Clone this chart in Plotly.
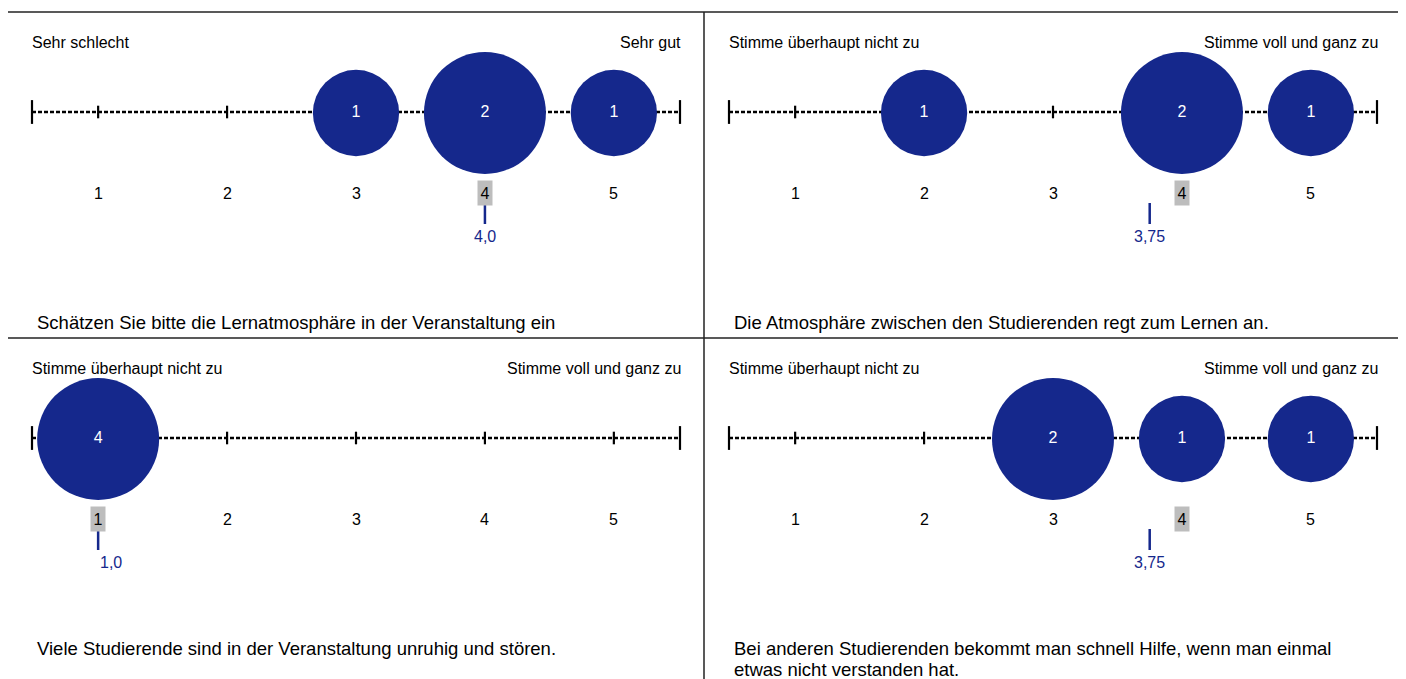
import math
import plotly.graph_objects as go

# ---------------- data ----------------
CATEGORIES = [1, 2, 3, 4, 5]
CAT_LABELS = ["1", "2", "3", "4", "5"]

QUESTIONS = [
    "Schätzen Sie bitte die Lernatmosphäre in der Veranstaltung ein",
    "Die Atmosphäre zwischen den Studierenden regt zum Lernen an.",
    "Viele Studierende sind in der Veranstaltung unruhig und stören.",
    "Bei anderen Studierenden bekommt man schnell Hilfe, wenn man einmal<br>etwas nicht verstanden hat.",
]
LEFT_LABELS = ["Sehr schlecht", "Stimme überhaupt nicht zu",
               "Stimme überhaupt nicht zu", "Stimme überhaupt nicht zu"]
RIGHT_LABELS = ["Sehr gut", "Stimme voll und ganz zu",
                "Stimme voll und ganz zu", "Stimme voll und ganz zu"]

COUNTS_Q1 = [0, 0, 1, 2, 1]
COUNTS_Q2 = [0, 1, 0, 2, 1]
COUNTS_Q3 = [4, 0, 0, 0, 0]
COUNTS_Q4 = [0, 0, 2, 1, 1]
COUNTS = [COUNTS_Q1, COUNTS_Q2, COUNTS_Q3, COUNTS_Q4]

MEANS = [4.0, 3.75, 1.0, 3.75]
MEAN_LABELS = ["4,0", "3,75", "1,0", "3,75"]
HIGHLIGHT = [4, 4, 1, 4]

# ---------------- style ----------------
OFF = 8                      # page body margin of the browser
W, H = 1406 - OFF, 679 - OFF
BLUE = "#15288c"
FONT = "Arial, Liberation Sans, sans-serif"
PAD = 0.513          # axis padding beyond categories
MAX_D = 122          # diameter of the largest bubble (px)

# panel geometry in page pixels: (x0, x1 of the scale, panel top, panel height)
PANELS = [
    (32, 680, 12, 326),
    (729, 1377, 12, 326),
    (32, 680, 338, 341),
    (729, 1377, 338, 341),
]
LINE_Y = 100


def px(v):
    return (v - OFF) / W


def py(v):
    return 1 - (v - OFF) / H


fig = go.Figure()
layout = dict(width=W, height=H, margin=dict(l=0, r=0, t=0, b=0),
              paper_bgcolor="white", plot_bgcolor="rgba(0,0,0,0)",
              showlegend=False, font=dict(family=FONT, color="black"))
annotations = []
shapes = []

for i, (x0, x1, ptop, ph) in enumerate(PANELS):
    n = i + 1
    xa = "x" if n == 1 else f"x{n}"
    ya = "y" if n == 1 else f"y{n}"
    xkey = "xaxis" if n == 1 else f"xaxis{n}"
    ykey = "yaxis" if n == 1 else f"yaxis{n}"
    top = ptop
    bot = min(ptop + ph, 679)
    layout[xkey] = dict(domain=[px(x0), px(x1)],
                        range=[CATEGORIES[0] - PAD, CATEGORIES[-1] + PAD],
                        visible=False, fixedrange=True)
    layout[ykey] = dict(domain=[max(0, py(bot)), py(top)],
                        range=[bot - top, 0], visible=False, fixedrange=True)
    xmin, xmax = CATEGORIES[0] - PAD, CATEGORIES[-1] + PAD

    # dashed scale line
    fig.add_trace(go.Scatter(x=[xmin, xmax], y=[LINE_Y, LINE_Y], mode="lines",
                             line=dict(color="black", width=2.5, dash="4px,2px"),
                             xaxis=xa, yaxis=ya, hoverinfo="skip", cliponaxis=False))
    # end bars
    fig.add_trace(go.Scatter(x=[xmin, xmax], y=[LINE_Y, LINE_Y], mode="markers",
                             marker=dict(symbol="line-ns", size=17,
                                         line=dict(color="black", width=2.2)),
                             xaxis=xa, yaxis=ya, hoverinfo="skip", cliponaxis=False))
    # category ticks
    fig.add_trace(go.Scatter(x=CATEGORIES, y=[LINE_Y] * 5, mode="markers",
                             marker=dict(symbol="line-ns", size=9,
                                         line=dict(color="black", width=2.2)),
                             xaxis=xa, yaxis=ya, hoverinfo="skip", cliponaxis=False))
    # bubbles
    cnt = COUNTS[i]
    mx = max(cnt)
    bx = [c for c, v in zip(CATEGORIES, cnt) if v > 0]
    bv = [v for v in cnt if v > 0]
    sizes = [MAX_D * math.sqrt(v / mx) for v in bv]
    fig.add_trace(go.Scatter(x=bx, y=[LINE_Y + 1] * len(bx), mode="markers+text",
                             marker=dict(size=sizes, color=BLUE, line=dict(width=0),
                                         opacity=1),
                             text=[str(v) for v in bv], textposition="middle center",
                             textfont=dict(color="white", size=16, family=FONT),
                             xaxis=xa, yaxis=ya, hoverinfo="skip", cliponaxis=False))

    # category labels
    for c, lab in zip(CATEGORIES, CAT_LABELS):
        hl = (c == HIGHLIGHT[i])
        annotations.append(dict(x=c, y=LINE_Y + 81, xref=xa, yref=ya, text=lab,
                                showarrow=False, font=dict(size=16, color="black"),
                                bgcolor="#bdbdbd" if hl else "rgba(0,0,0,0)",
                                width=14 if hl else None, height=24 if hl else None,
                                borderpad=0, yanchor="middle", xanchor="center"))
    # mean marker
    m = MEANS[i]
    fig.add_trace(go.Scatter(x=[m, m], y=[LINE_Y + 91, LINE_Y + 112], mode="lines",
                             line=dict(color=BLUE, width=2.5),
                             xaxis=xa, yaxis=ya, hoverinfo="skip", cliponaxis=False))
    annotations.append(dict(x=m, y=LINE_Y + 124, xref=xa, yref=ya, text=MEAN_LABELS[i],
                            showarrow=False, font=dict(size=16, color=BLUE),
                            xanchor="left" if m < 1.5 else "center",
                            yanchor="middle"))
    # pole labels
    annotations.append(dict(x=-0.003, y=30, xref=f"{xa} domain", yref=ya,
                            text=LEFT_LABELS[i], showarrow=False,
                            font=dict(size=16), xanchor="left", yanchor="middle"))
    annotations.append(dict(x=1.004, y=30, xref=f"{xa} domain", yref=ya,
                            text=RIGHT_LABELS[i], showarrow=False,
                            font=dict(size=16), xanchor="right", yanchor="middle"))
    # question (one annotation per line, 21 px line spacing)
    for k, qline in enumerate(QUESTIONS[i].split("<br>")):
        annotations.append(dict(x=0.0046, y=310 + 21 * k, xref=f"{xa} domain", yref=ya,
                                text=qline, showarrow=False, align="left",
                                font=dict(size=18.5), xanchor="left", yanchor="middle"))

# panel borders
line_style = dict(color="#222222", width=1.5)
shapes.append(dict(type="line", xref="paper", yref="paper", x0=px(7), x1=px(1402),
                   y0=py(12), y1=py(12), line=line_style))
shapes.append(dict(type="line", xref="paper", yref="paper", x0=px(7), x1=px(1402),
                   y0=py(338), y1=py(338), line=line_style))
for xp in (7, 704, 1402):
    shapes.append(dict(type="line", xref="paper", yref="paper", x0=px(xp), x1=px(xp),
                       y0=0, y1=py(12), line=line_style))

layout["annotations"] = annotations
layout["shapes"] = shapes
fig.update_layout(**layout)
fig.write_html("out.html")
